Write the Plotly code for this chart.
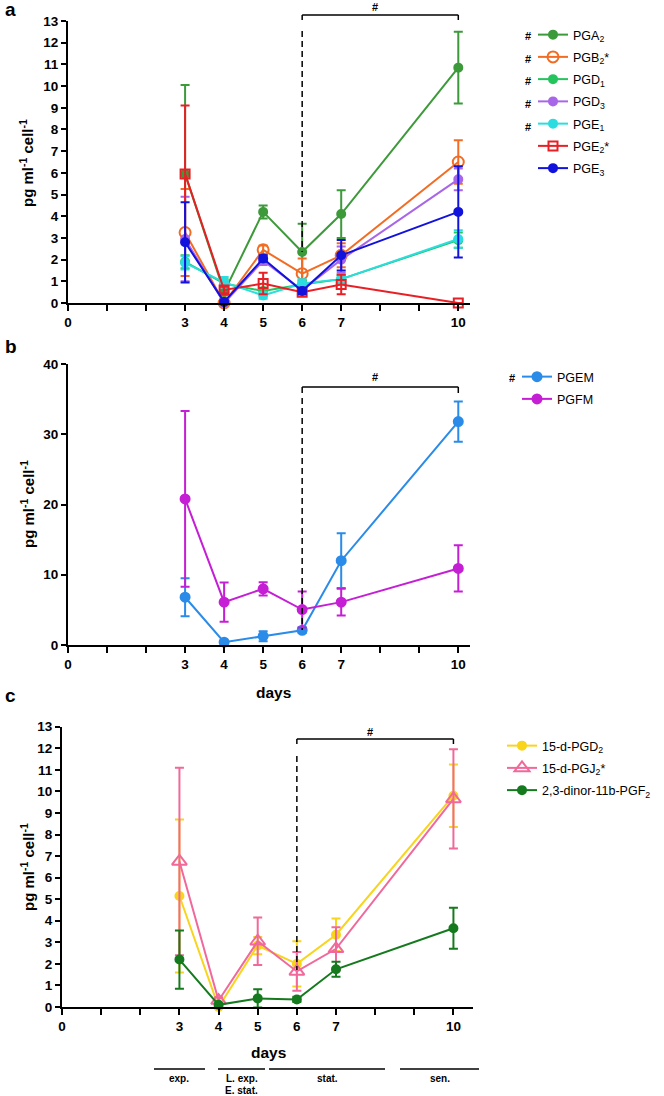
import plotly.graph_objects as go

W, H = 664, 1096
days = [3, 4, 5, 6, 7, 10]
xtick_vals = list(range(0, 11))
xtick_text = ["0", "", "", "3", "4", "5", "6", "7", "", "", "10"]

# Panel a
PGA2 = [5.95, 0.5, 4.2, 2.35, 4.1, 10.85]
PGA2_err = [4.1, 0.3, 0.3, 1.3, 1.1, 1.65]
PGB2 = [3.25, 0.0, 2.45, 1.35, 2.2, 6.5]
PGB2_err = [2.0, 0.1, 0.2, 0.7, 0.55, 1.0]
PGD1 = [1.9, 0.9, 0.55, 0.85, 1.1, 2.9]
PGD1_err = [0.3, 0.2, 0.15, 0.15, 0.2, 0.35]
PGD3 = [2.95, 0.0, 1.95, 0.6, 2.0, 5.7]
PGD3_err = [1.95, 0.1, 0.2, 0.15, 0.6, 0.5]
PGE1 = [1.85, 0.95, 0.35, 0.9, 1.1, 2.95]
PGE1_err = [0.3, 0.25, 0.15, 0.2, 0.15, 0.4]
PGE2 = [5.95, 0.6, 0.9, 0.5, 0.85, 0.0]
PGE2_err = [3.15, 0.15, 0.5, 0.1, 0.45, 0.0]
PGE3 = [2.8, 0.05, 2.05, 0.55, 2.2, 4.2]
PGE3_err = [1.85, 0.1, 0.15, 0.15, 0.7, 2.1]

# Panel b
PGEM = [6.8, 0.4, 1.25, 2.1, 12.0, 31.8]
PGEM_err = [2.7, 0.2, 0.7, 0.4, 3.9, 2.85]
PGFM = [20.8, 6.1, 8.0, 5.05, 6.1, 10.9]
PGFM_err = [12.5, 2.8, 0.95, 2.55, 1.9, 3.3]

# Panel c
dPGD2 = [5.15, 0.0, 2.85, 2.0, 3.35, 9.8]
dPGD2_err = [3.55, 0.1, 0.4, 1.05, 0.75, 1.45]
dPGJ2 = [6.75, 0.3, 3.05, 1.65, 2.7, 9.65]
dPGJ2_err = [4.35, 0.15, 1.1, 0.9, 1.0, 2.3]
dinor = [2.2, 0.1, 0.4, 0.35, 1.75, 3.65]
dinor_err = [1.35, 0.05, 0.42, 0.12, 0.35, 0.95]

phases = [["exp."], ["L. exp.", "E. stat."], ["stat."], ["sen."]]

FONT = "Arial, Liberation Sans, sans-serif"

def px(x):
    return x / W

def py(y):
    return 1 - y / H

fig = go.Figure()

def add(name, y, err, color, symbol, size, xa, ya, legend):
    fig.add_trace(go.Scatter(
        x=days, y=y, name=name, mode="lines+markers",
        line=dict(color=color, width=2),
        marker=dict(symbol=symbol, size=size, color=color,
                    line=dict(color=color, width=2)),
        error_y=dict(type="data", array=err, visible=True, color=color,
                     thickness=2, width=4.5),
        xaxis=xa, yaxis=ya, legend=legend, legendgroup=name,
        cliponaxis=False,
    ))

add("PGA<sub>2</sub>", PGA2, PGA2_err, "#3d9a3a", "circle", 8, "x", "y", "legend")
add("PGB<sub>2</sub>*", PGB2, PGB2_err, "#f26d23", "circle-open", 11, "x", "y", "legend")
add("PGD<sub>1</sub>", PGD1, PGD1_err, "#25c45e", "circle", 8, "x", "y", "legend")
add("PGD<sub>3</sub>", PGD3, PGD3_err, "#a866e8", "circle", 8, "x", "y", "legend")
add("PGE<sub>1</sub>", PGE1, PGE1_err, "#2cdde0", "circle", 8, "x", "y", "legend")
add("PGE<sub>2</sub>*", PGE2, PGE2_err, "#e82026", "square-open", 9, "x", "y", "legend")
add("PGE<sub>3</sub>", PGE3, PGE3_err, "#1212dd", "circle", 8, "x", "y", "legend")

add("PGEM", PGEM, PGEM_err, "#2a8be8", "circle", 9, "x2", "y2", "legend2")
add("PGFM", PGFM, PGFM_err, "#c51fd5", "circle", 9, "x2", "y2", "legend2")

add("15-d-PGD<sub>2</sub>", dPGD2, dPGD2_err, "#f8d41c", "circle", 8, "x3", "y3", "legend3")
add("15-d-PGJ<sub>2</sub>*", dPGJ2, dPGJ2_err, "#f0699a", "triangle-up-open", 13, "x3", "y3", "legend3")
add("2,3-dinor-11b-PGF<sub>2</sub>", dinor, dinor_err, "#157a1e", "circle", 8, "x3", "y3", "legend3")

tickfont = dict(family=FONT, size=13.5, color="black", weight="bold")

def xaxis(domain, rng, anchor):
    return dict(domain=domain, range=rng, anchor=anchor, tickvals=xtick_vals,
                ticktext=xtick_text, ticks="outside", ticklen=6, tickwidth=2,
                tickcolor="black", showline=True, linewidth=2, linecolor="black",
                showgrid=False, zeroline=False, tickfont=tickfont, fixedrange=True)

def yaxis(domain, rng, dtick, anchor):
    return dict(domain=domain, range=rng, anchor=anchor, dtick=dtick, tick0=0,
                ticks="outside", ticklen=5, tickwidth=2, tickcolor="black",
                showline=True, linewidth=2, linecolor="black", showgrid=False,
                zeroline=False, tickfont=tickfont, fixedrange=True)

# pixel geometry of the three panels
A = dict(l=68, r=470, b=303, t=21)
B = dict(l=68, r=470, b=645, t=364)
C = dict(l=62, r=473, b=1007, t=726.7)

fig.update_layout(
    width=W, height=H, margin=dict(l=0, r=0, t=0, b=0, autoexpand=False),
    paper_bgcolor="white", plot_bgcolor="white",
    font=dict(family=FONT, color="black"),
    xaxis=xaxis([px(A["l"]), px(A["r"])], [0, 10.3], "y"),
    yaxis=yaxis([py(A["b"]), py(A["t"])], [0, 13], 1, "x"),
    xaxis2=xaxis([px(B["l"]), px(B["r"])], [0, 10.3], "y2"),
    yaxis2=yaxis([py(B["b"]), py(B["t"])], [0, 40], 10, "x2"),
    xaxis3=xaxis([px(C["l"]), px(C["r"])], [0, 10.5], "y3"),
    yaxis3=yaxis([py(C["b"]), py(C["t"])], [0, 13], 1, "x3"),
    hovermode=False,
)

legend_common = dict(bgcolor="rgba(0,0,0,0)", font=dict(family=FONT, size=12.5, color="black"),
                     xanchor="left", yanchor="top", tracegroupgap=3, itemclick=False)
fig.update_layout(
    legend=dict(x=px(533), y=py(20), **legend_common),
    legend2=dict(x=px(517), y=py(362), **legend_common),
    legend3=dict(x=px(502), y=py(731), **legend_common),
)

shapes = []
annotations = []

def dom(P, ypix):
    return (P["b"] - ypix) / (P["b"] - P["t"])

# significance brackets and dashed lines
def bracket(xa, ya, xdom_max, P, y_top, y_tick, dash_top, dash_bot, hash_y):
    x0, x1 = 6 / xdom_max, 10 / xdom_max
    ln = dict(color="black", width=1.5)
    shapes.append(dict(type="line", xref=xa + " domain", yref=ya + " domain",
                       x0=x0, x1=x1, y0=dom(P, y_top), y1=dom(P, y_top), line=ln))
    for xx in (x0, x1):
        shapes.append(dict(type="line", xref=xa + " domain", yref=ya + " domain",
                           x0=xx, x1=xx, y0=dom(P, y_top), y1=dom(P, y_tick), line=ln))
    shapes.append(dict(type="line", xref=xa + " domain", yref=ya + " domain",
                       x0=x0, x1=x0, y0=dom(P, dash_top), y1=dom(P, dash_bot),
                       line=dict(color="black", width=1.5, dash="6px,4px")))
    annotations.append(dict(text="#", xref=xa + " domain", yref=ya + " domain",
                            x=(x0 + x1) / 2, y=dom(P, hash_y), showarrow=False,
                            yanchor="middle",
                            font=dict(family=FONT, size=11, weight="bold")))

bracket("x", "y", 10.3, A, 15, 20, 31, 252, 7)
bracket("x2", "y2", 10.3, B, 387, 393, 398, 630, 377)
bracket("x3", "y3", 10.5, C, 739, 744, 756, 970, 732)

# y titles
ytitle = "pg ml<sup>-1</sup> cell<sup>-1</sup>"
for yc in (163, 504, 867):
    annotations.append(dict(text=ytitle, xref="paper", yref="paper", x=px(27), y=py(yc),
                            textangle=-90, showarrow=False, xanchor="center", yanchor="middle",
                            font=dict(family=FONT, size=15, weight="bold")))
# x titles
for xc, yc in ((273, 692), (268, 1052)):
    annotations.append(dict(text="days", xref="paper", yref="paper", x=px(xc), y=py(yc),
                            showarrow=False, xanchor="center", yanchor="middle",
                            font=dict(family=FONT, size=15.5, weight="bold")))
# panel letters
for lab, yc in (("a", 10), ("b", 346), ("c", 695)):
    annotations.append(dict(text=lab, xref="paper", yref="paper", x=px(3), y=py(yc),
                            showarrow=False, xanchor="left", yanchor="middle",
                            font=dict(family=FONT, size=19, weight="bold")))
# '#' legend markers
for yc in (36, 58.5, 81, 104, 127):
    annotations.append(dict(text="#", xref="paper", yref="paper", x=px(528), y=py(yc),
                            showarrow=False, xanchor="center", yanchor="middle",
                            font=dict(family=FONT, size=11, weight="bold")))
annotations.append(dict(text="#", xref="paper", yref="paper", x=px(512), y=py(378),
                        showarrow=False, xanchor="center", yanchor="middle",
                        font=dict(family=FONT, size=11, weight="bold")))

# growth phase bars
phase_x = [(154, 205), (218, 265), (269, 385), (400, 479)]
for (x0, x1), labs in zip(phase_x, phases):
    shapes.append(dict(type="line", xref="paper", yref="paper", x0=px(x0), x1=px(x1),
                       y0=py(1069), y1=py(1069), line=dict(color="black", width=1.5)))
    for i, lab in enumerate(labs):
        annotations.append(dict(text=lab, xref="paper", yref="paper", x=px((x0 + x1) / 2),
                                y=py(1078.5 + 11.5 * i), showarrow=False, borderpad=0,
                                xanchor="center", yanchor="middle",
                                font=dict(family=FONT, size=10, weight="bold")))

fig.update_layout(shapes=shapes, annotations=annotations)
fig.write_html("out.html", config={"displayModeBar": False, "staticPlot": True},
               post_script="document.body.style.margin='0';document.body.style.padding='0';")
